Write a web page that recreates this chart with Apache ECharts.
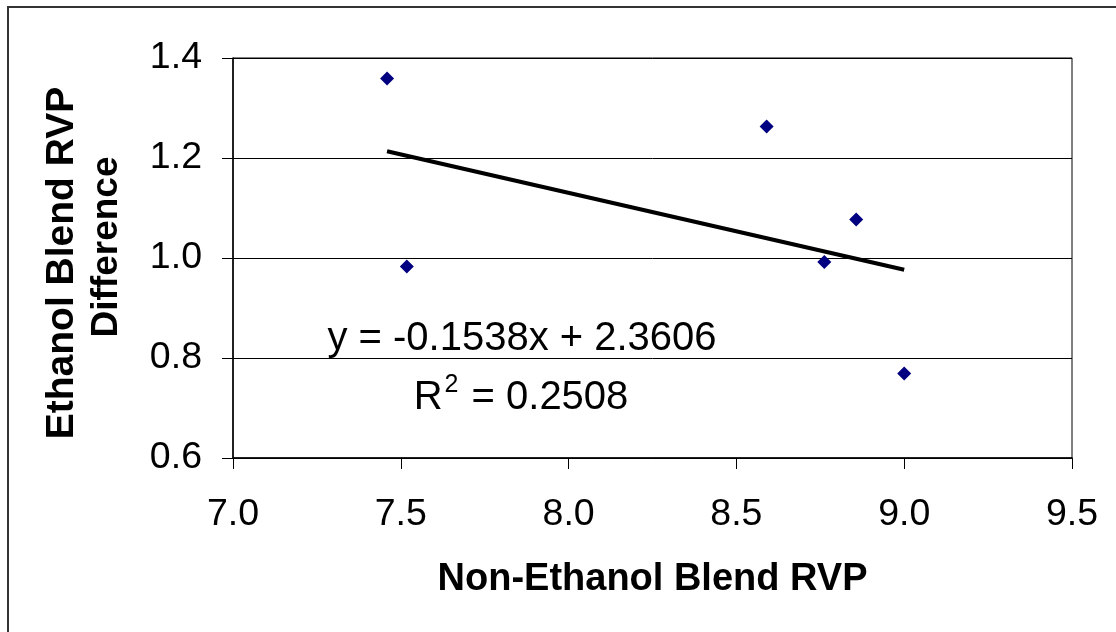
<!DOCTYPE html>
<html>
<head>
<meta charset="utf-8">
<script src="https://cdn.jsdelivr.net/npm/echarts@6/dist/echarts.min.js"></script>
<style>
html,body{margin:0;padding:0;background:#fff;}
#chart{width:1116px;height:632px;}
</style>
</head>
<body>
<div id="chart"></div>
<script>
// Data
const blendRVP = [7.459, 7.518, 8.590, 8.857, 8.762, 9.000];
const rvpDifference = [1.359, 0.983, 1.263, 1.077, 0.992, 0.769];
// Linear trendline (as printed on chart)
const trendSlope = -0.1538;
const trendIntercept = 2.3606;
const trendX = [7.459, 9.0];
const equationText = 'y = -0.1538x + 2.3606';
const r2Value = '0.2508';
const xTitle = 'Non-Ethanol Blend RVP';
const yTitleLines = ['Ethanol Blend RVP', 'Difference'];

const FONT = "'Liberation Sans', Arial, sans-serif";
const chart = echarts.init(document.getElementById('chart'));
const points = blendRVP.map((x, i) => [x, rvpDifference[i]]);
const trend = trendX.map(x => [x, trendSlope * x + trendIntercept]);

chart.setOption({
  animation: false,
  backgroundColor: '#fff',
  grid: { left: 233, top: 58, right: 44, bottom: 174, show: true, borderColor: '#000', borderWidth: 1, backgroundColor: 'transparent' },
  xAxis: {
    type: 'value', min: 7, max: 9.5, interval: 0.5,
    name: xTitle, nameLocation: 'middle', nameGap: 122,
    nameTextStyle: { fontFamily: FONT, fontSize: 38, fontWeight: 'bold', color: '#000', verticalAlign: 'middle' },
    axisLine: { show: true, onZero: false, lineStyle: { color: '#000', width: 1.5 } },
    axisTick: { show: true, inside: false, length: 11, lineStyle: { color: '#000', width: 1 } },
    axisLabel: { fontFamily: FONT, fontSize: 37.5, color: '#000', margin: 38, formatter: v => v.toFixed(1) },
    splitLine: { show: false }
  },
  yAxis: {
    type: 'value', min: 0.6, max: 1.4, interval: 0.2,
    axisLine: { show: true, onZero: false, lineStyle: { color: '#000', width: 1.5 } },
    axisTick: { show: true, inside: false, length: 11, lineStyle: { color: '#000', width: 1 } },
    axisLabel: { fontFamily: FONT, fontSize: 37.5, color: '#000', margin: 31, formatter: v => v.toFixed(1) },
    splitLine: { show: true, lineStyle: { color: '#000', width: 1 } }
  },
  series: [
    {
      type: 'scatter', data: points, symbol: 'diamond', symbolSize: [14, 14],
      itemStyle: { color: '#000080', opacity: 1 }, z: 3
    },
    {
      type: 'line', data: trend, symbol: 'none', showSymbol: false,
      lineStyle: { color: '#000', width: 4 }, z: 2
    }
  ],
  graphic: [
    { type: 'rect', left: 7, top: 6, shape: { width: 1200, height: 700 }, style: { fill: 'transparent', stroke: '#333', lineWidth: 2 }, silent: true, z: -1 },
    { type: 'text', x: 62, y: 263, rotation: Math.PI / 2,
      style: { text: yTitleLines[0], font: 'bold 39px ' + FONT, fill: '#000', align: 'center', verticalAlign: 'middle' } },
    { type: 'text', x: 107, y: 247, rotation: Math.PI / 2,
      style: { text: yTitleLines[1], font: 'bold 37px ' + FONT, fill: '#000', align: 'center', verticalAlign: 'middle' } },
    { type: 'text', x: 522, y: 339,
      style: { text: equationText, font: '40px ' + FONT, fill: '#000', align: 'center', verticalAlign: 'middle' } },
    { type: 'text', x: 521, y: 398,
      style: { text: '{r|R}{s|2}{r| = ' + r2Value + '}', align: 'center', verticalAlign: 'middle',
        rich: { r: { font: '40px ' + FONT, color: '#000' },
                s: { font: '25px ' + FONT, color: '#000', verticalAlign: 'top', padding: [0, 2, 26, 2] } } } }
  ]
});
</script>
</body>
</html>
